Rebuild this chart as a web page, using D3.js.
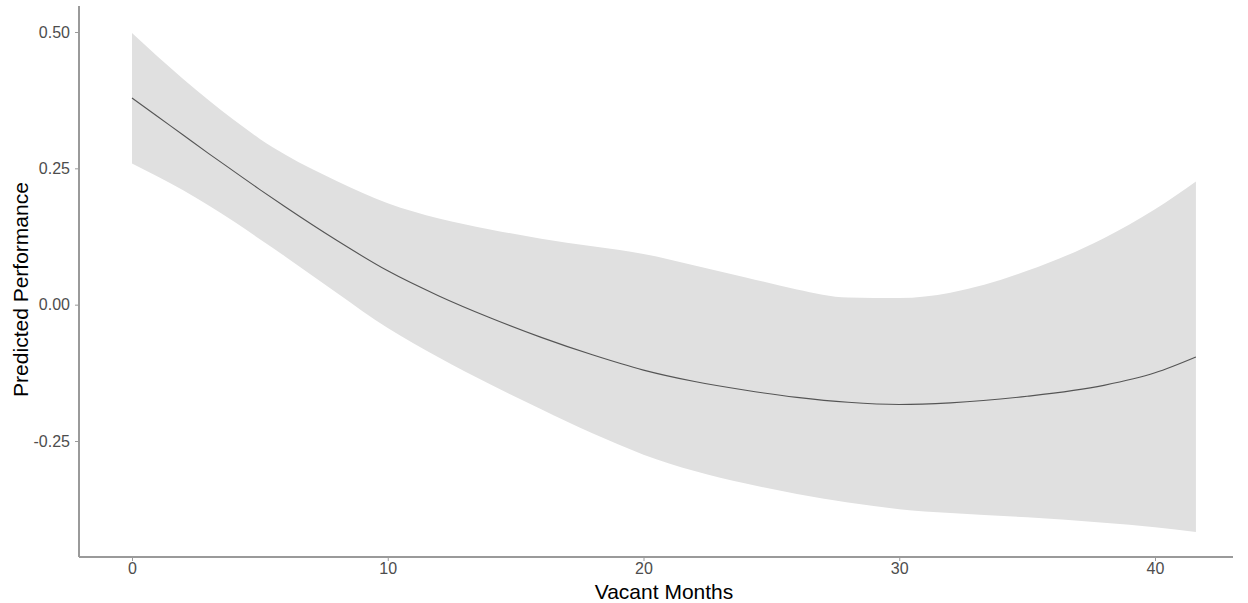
<!DOCTYPE html>
<html>
<head>
<meta charset="utf-8">
<script src="https://cdn.jsdelivr.net/npm/d3@7"></script>
<style>
  html, body { margin: 0; padding: 0; background: #fff; }
  svg { display: block; font-family: "Liberation Sans", Arial, sans-serif; }
</style>
</head>
<body>
<svg id="chart" width="1248" height="603"></svg>
<script>
// Data
const xMonths    = [0, 1, 2, 3, 4, 5, 6, 8, 10, 12, 14, 16, 18, 20, 22, 24, 26, 28, 30, 32, 35, 38, 40, 41.6];
const fitValues  = [0.379, 0.345, 0.311, 0.277, 0.244, 0.211, 0.179, 0.118, 0.062, 0.016, -0.024, -0.06, -0.092, -0.12, -0.141, -0.157, -0.17, -0.179, -0.183, -0.18, -0.168, -0.148, -0.125, -0.096];
const upperValues = [0.498, 0.455, 0.414, 0.375, 0.338, 0.304, 0.275, 0.227, 0.186, 0.158, 0.138, 0.121, 0.107, 0.093, 0.072, 0.05, 0.028, 0.013, 0.012, 0.022, 0.062, 0.122, 0.175, 0.226];
const lowerValues = [0.259, 0.235, 0.21, 0.182, 0.152, 0.12, 0.088, 0.022, -0.043, -0.097, -0.146, -0.192, -0.236, -0.275, -0.305, -0.328, -0.347, -0.363, -0.375, -0.382, -0.39, -0.4, -0.408, -0.417];
const xTicks = [0, 10, 20, 30, 40];
const yTicks = [-0.25, 0, 0.25, 0.5];
const yTickLabels = ["-0.25", "0.00", "0.25", "0.50"];
const xTitle = "Vacant Months";
const yTitle = "Predicted Performance";

const svg = d3.select("#chart");
const x = d3.scaleLinear().domain([0, 40]).range([132, 1155]);
const y = d3.scaleLinear().domain([-0.25, 0.5]).range([441, 32]);
const plotLeft = 79, plotRight = 1233, plotTop = 6, plotBottom = 557;

const rows = xMonths.map((m, i) => ({ m, fit: fitValues[i], lo: lowerValues[i], hi: upperValues[i] }));

svg.append("path")
  .datum(rows)
  .attr("fill", "#e0e0e0")
  .attr("d", d3.area().x(d => x(d.m)).y0(d => y(d.lo)).y1(d => y(d.hi)).curve(d3.curveMonotoneX));

svg.append("path")
  .datum(rows)
  .attr("fill", "none")
  .attr("stroke", "#555")
  .attr("stroke-width", 1.1)
  .attr("d", d3.line().x(d => x(d.m)).y(d => y(d.fit)).curve(d3.curveMonotoneX));

// axes
const axisColor = "#9a9a9a";
const gx = svg.append("g").attr("transform", `translate(0,${plotBottom})`)
  .call(d3.axisBottom(x).tickValues(xTicks).tickSize(4).tickPadding(2).tickFormat(d3.format("d")));
const gy = svg.append("g").attr("transform", `translate(${plotLeft},0)`)
  .call(d3.axisLeft(y).tickValues(yTicks).tickSize(4).tickPadding(5).tickFormat(d => yTickLabels[yTicks.indexOf(d)]));
gx.select(".domain").remove();
gy.select(".domain").remove();
[gx, gy].forEach(g => {
  g.selectAll(".tick line").attr("stroke", axisColor).attr("stroke-width", 1);
  g.selectAll(".tick text").attr("fill", "#4d4d4d").style("font-size", "16px");
});
svg.append("line").attr("x1", plotLeft).attr("x2", plotRight).attr("y1", plotBottom).attr("y2", plotBottom)
  .attr("stroke", axisColor).attr("stroke-width", 2);
svg.append("line").attr("x1", plotLeft).attr("x2", plotLeft).attr("y1", plotTop).attr("y2", plotBottom)
  .attr("stroke", axisColor).attr("stroke-width", 2);

svg.append("text").attr("x", 664).attr("y", 599)
  .attr("text-anchor", "middle").attr("fill", "#000").style("font-size", "21px").text(xTitle);
svg.append("text").attr("transform", `translate(28,${(plotTop + plotBottom) / 2 + 8}) rotate(-90)`)
  .attr("text-anchor", "middle").attr("fill", "#000").style("font-size", "21px").text(yTitle);
</script>
</body>
</html>
